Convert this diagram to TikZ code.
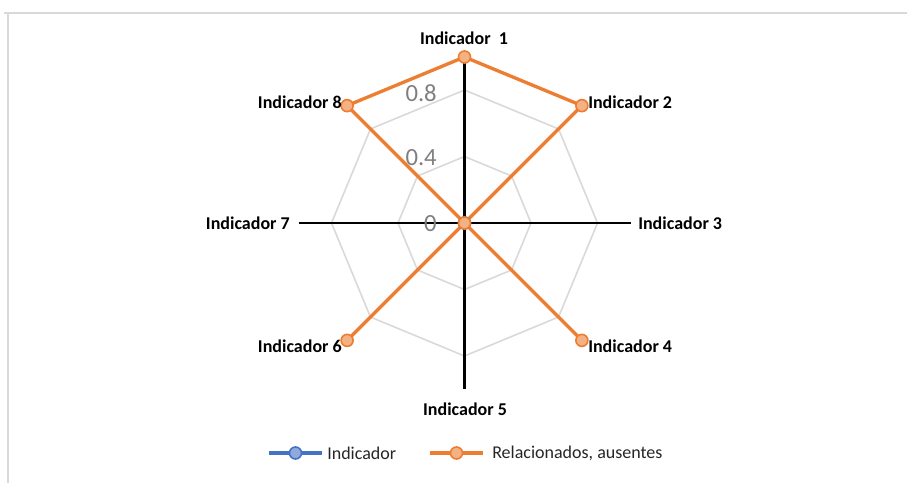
\documentclass[tikz,border=0pt]{standalone}
\usepackage{fontspec}
\setmainfont{Carlito}
\definecolor{orng}{HTML}{ED7D31}
\definecolor{orngfill}{HTML}{F4B183}
\definecolor{blu}{HTML}{4472C4}
\definecolor{blufill}{HTML}{8FAADC}
\definecolor{gridgray}{HTML}{D9D9D9}
\definecolor{ticktext}{HTML}{7F7F7F}
\begin{document}
\begin{tikzpicture}[x=0.75pt,y=-0.75pt,
  axislbl/.style={font=\fontsize{13.5pt}{16pt}\selectfont\bfseries, inner sep=0pt, text=black},
  ticklbl/.style={font=\fontsize{18.5pt}{22pt}\selectfont, inner sep=0pt, text=ticktext, anchor=east},
  leglbl/.style={font=\fontsize{13.5pt}{16pt}\selectfont, inner sep=0pt, anchor=west, text=black!85},
  gridline/.style={draw=gridgray, line width=1.2pt},
  axisline/.style={draw=black, line width=1.6pt},
  orline/.style={draw=orng, line width=2.5pt, line join=round},
  blline/.style={draw=blu, line width=2.5pt},
  ormark/.style={circle, draw=orng, fill=orngfill, line width=1.2pt, minimum size=9pt, inner sep=0pt},
  blmark/.style={circle, draw=blu, fill=blufill, line width=1.2pt, minimum size=9pt, inner sep=0pt}
]
\useasboundingbox (0,0) rectangle (907,483);
% frame
\coordinate (fa) at (4,12.5);
\coordinate (fb) at (907,12.5);
\coordinate (fc) at (7.5,12.5);
\coordinate (fd) at (7.5,483);
\draw[draw=gridgray, line width=1.5pt] (fa) -- (fb);
\draw[draw=gridgray, line width=1.5pt] (fc) -- (fd);

\coordinate (c) at (464.5,223);
% axis end points and grid vertices
\foreach \k in {1,...,8}{
  \pgfmathsetmacro{\ang}{90-45*(\k-1)}
  \coordinate (A\k) at ({464.5+166*cos(\ang)},{223-166*sin(\ang)});
  \coordinate (G\k) at ({464.5+66.5*cos(\ang)},{223-66.5*sin(\ang)});
  \coordinate (H\k) at ({464.5+133*cos(\ang)},{223-133*sin(\ang)});
}
% grid
\draw[gridline] (G1)--(G2)--(G3)--(G4)--(G5)--(G6)--(G7)--(G8)--cycle;
\draw[gridline] (H1)--(H2)--(H3)--(H4)--(H5)--(H6)--(H7)--(H8)--cycle;
% axes (only the vertical and horizontal ones are shown)
\draw[axisline] (A1) -- (A5);
\draw[axisline] (A7) -- (A3);
% tick labels
\node[ticklbl] (t08) at (437,93) {0.8};
\node[ticklbl] (t04) at (437,158) {0.4};
\node[ticklbl] (t0) at (437,224) {0};
% orange series
\draw[orline] (A1) -- (A2) -- (c) -- (A4) -- (c) -- (A6) -- (c) -- (A8) -- cycle;
\node[blmark] (bc) at (c) {};
\node[ormark] (m1) at (A1) {};
\node[ormark] (m2) at (A2) {};
\node[ormark] (m4) at (A4) {};
\node[ormark] (m6) at (A6) {};
\node[ormark] (m8) at (A8) {};
\node[ormark] (mc) at (c) {};
% axis labels
\node[axislbl] (l1) at (464,38) {Indicador\ \ 1};
\node[axislbl, anchor=west] (l2) at (588,102) {Indicador 2};
\node[axislbl, anchor=west] (l3) at (638,223) {Indicador 3};
\node[axislbl, anchor=west] (l4) at (588,346) {Indicador 4};
\node[axislbl] (l5) at (465,409) {Indicador 5};
\node[axislbl, anchor=east] (l6) at (342,346) {Indicador 6};
\node[axislbl, anchor=east] (l7) at (290,223) {Indicador 7};
\node[axislbl, anchor=east] (l8) at (342,102) {Indicador 8};
% legend
\coordinate (lb1) at (269,453);
\coordinate (lb2) at (322,453);
\draw[blline] (lb1) -- (lb2);
\node[blmark] (lbm) at (295.5,453) {};
\node[leglbl] (lbt) at (327,453) {Indicador};
\coordinate (lo1) at (430,453);
\coordinate (lo2) at (483,453);
\draw[orline] (lo1) -- (lo2);
\node[ormark] (lom) at (456.5,453) {};
\node[leglbl] (lot) at (492,453) {Relacionados, ausentes};
\end{tikzpicture}
\end{document}
